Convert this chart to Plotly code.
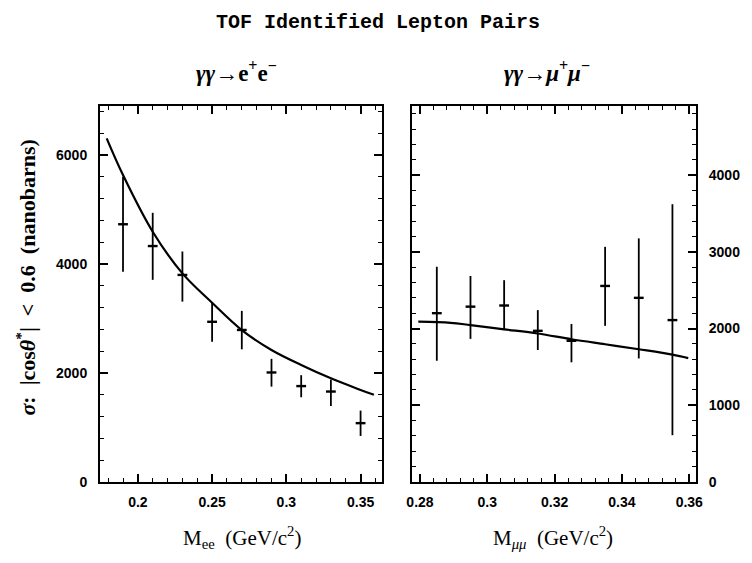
import plotly.graph_objects as go

# ---- data: gamma gamma -> e+ e- ----
m_ee = [0.19, 0.21, 0.23, 0.25, 0.27, 0.29, 0.31, 0.33, 0.35]
sig_ee = [4730, 4330, 3800, 2940, 2790, 2010, 1760, 1660, 1080]
err_ee_up = [870, 610, 430, 350, 350, 250, 200, 220, 230]
err_ee_dn = [870, 620, 490, 365, 355, 260, 205, 265, 235]
fit_ee_x = [0.179, 0.19, 0.21, 0.23, 0.25, 0.27, 0.29, 0.31, 0.33, 0.35, 0.359]
fit_ee_y = [6306, 5633, 4593, 3829, 3290, 2789, 2422, 2147, 1902, 1690, 1600]

# ---- data: gamma gamma -> mu+ mu- ----
m_mm = [0.285, 0.295, 0.305, 0.315, 0.325, 0.335, 0.345, 0.355]
sig_mm = [2200, 2285, 2300, 1970, 1840, 2555, 2400, 2110]
err_mm_up = [605, 400, 330, 270, 220, 510, 775, 1510]
err_mm_dn = [620, 420, 320, 250, 280, 520, 790, 1500]
fit_mm_x = [0.2795, 0.2891, 0.295, 0.305, 0.315, 0.325, 0.335, 0.345, 0.355, 0.3597]
fit_mm_y = [2090, 2075, 2045, 1990, 1935, 1860, 1795, 1730, 1660, 1615]

yticks_ee = [0, 2000, 4000, 6000]
yticks_mm = [0, 1000, 2000, 3000, 4000]

fig = go.Figure()

def add_panel(x, y, up, dn, fx, fy, xa, ya):
    fig.add_trace(go.Scatter(
        x=fx, y=fy, mode="lines", line=dict(color="black", width=2.2, shape="spline"),
        xaxis=xa, yaxis=ya, showlegend=False, hoverinfo="skip"))
    fig.add_trace(go.Scatter(
        x=x, y=y, mode="markers",
        marker=dict(symbol="line-ew", size=7, line=dict(color="black", width=2.4), color="black"),
        error_y=dict(type="data", symmetric=False, array=up, arrayminus=dn,
                     color="black", thickness=1.8, width=0),
        xaxis=xa, yaxis=ya, showlegend=False))

add_panel(m_ee, sig_ee, err_ee_up, err_ee_dn, fit_ee_x, fit_ee_y, "x", "y")
add_panel(m_mm, sig_mm, err_mm_up, err_mm_dn, fit_mm_x, fit_mm_y, "x2", "y2")

tickfont = dict(family="Liberation Sans", size=14, color="black", weight="bold")
common = dict(showline=True, linewidth=2, linecolor="black", mirror="ticks",
              ticks="inside", ticklen=8, tickwidth=1.5, tickcolor="black",
              showgrid=False, zeroline=False, tickfont=tickfont)

W, H = 752, 563
L, R, T, B = 100, 52, 106, 81
pw = W - L - R
ph = H - T - B
d1 = [0, (384 - L) / pw]
d2 = [(414 - L) / pw, 1]

fig.update_layout(
    width=W, height=H, margin=dict(l=L, r=R, t=T, b=B),
    paper_bgcolor="white", plot_bgcolor="white",
    xaxis=dict(domain=d1, range=[0.1745, 0.3645], tick0=0, dtick=0.05,
               minor=dict(ticks="inside", ticklen=4, tickwidth=1.2, tickcolor="black", dtick=0.01, tick0=0),
               anchor="y", ticklabelstandoff=6, **common),
    yaxis=dict(domain=[0, 1], range=[0, 6900], tickvals=yticks_ee,
               minor=dict(ticks="inside", ticklen=4, tickwidth=1.2, tickcolor="black", dtick=400, tick0=0),
               anchor="x", ticklabelstandoff=8, **common),
    xaxis2=dict(domain=d2, range=[0.2776, 0.362], tick0=0, dtick=0.02,
                minor=dict(ticks="inside", ticklen=4, tickwidth=1.2, tickcolor="black", dtick=0.004, tick0=0),
                anchor="y2", ticklabelstandoff=6, **common),
    yaxis2=dict(domain=[0, 1], range=[0, 4900], tickvals=yticks_mm, side="right",
                minor=dict(ticks="inside", ticklen=4, tickwidth=1.2, tickcolor="black", dtick=200, tick0=0),
                anchor="x2", ticklabelstandoff=8, **common),
)

def px(xp):
    return (xp - L) / pw

def py(yp):
    return (H - B - yp) / ph

serif = "Liberation Serif"
ann = [
    dict(text="TOF Identified Lepton Pairs", x=px(380), y=py(22),
         font=dict(family="Liberation Mono", size=20, color="black", weight="bold")),
    dict(text="<i>γγ</i>→e<sup>+</sup>e<sup>−</sup>", x=px(237), y=py(72),
         font=dict(family=serif, size=23, color="black", weight="bold")),
    dict(text="<i>γγ</i>→<i>μ</i><sup>+</sup><i>μ</i><sup>−</sup>", x=px(550), y=py(72),
         font=dict(family=serif, size=23, color="black", weight="bold")),
    dict(text="M<sub>ee</sub>  (GeV/c<sup>2</sup>)", x=px(243), y=py(537),
         font=dict(family=serif, size=21, color="black")),
    dict(text="M<sub><i>μμ</i></sub>  (GeV/c<sup>2</sup>)", x=px(556), y=py(537),
         font=dict(family=serif, size=21, color="black")),
    dict(text="<i>σ</i>:  |cos<i>θ</i><sup>*</sup>|  <  0.6  (nanobarns)", x=px(25), y=py(278),
         textangle=-90, font=dict(family=serif, size=22, color="black", weight="bold")),
]
for a in ann:
    a.update(xref="paper", yref="paper", showarrow=False, xanchor="center", yanchor="middle")
fig.update_layout(annotations=ann)

fig.write_html("out.html")
